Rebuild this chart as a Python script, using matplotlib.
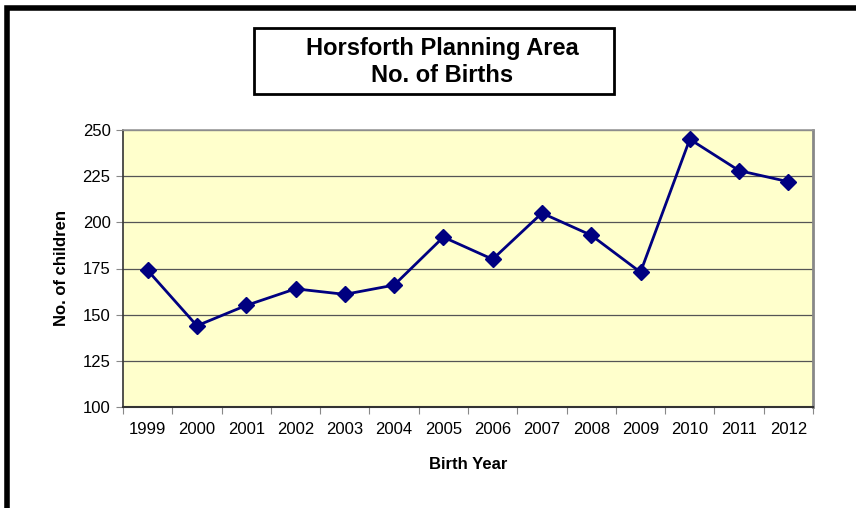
import matplotlib
matplotlib.use("Agg")
from matplotlib import pyplot as plt
from matplotlib.patches import Rectangle

plt.rcParams['font.family'] = ['Liberation Sans', 'DejaVu Sans']

years = ["1999", "2000", "2001", "2002", "2003", "2004", "2005",
         "2006", "2007", "2008", "2009", "2010", "2011", "2012"]
births = [174, 144, 155, 164, 161, 166, 192, 180, 205, 193, 173, 245, 228, 222]
y_ticks = [100, 125, 150, 175, 200, 225, 250]

W, H = 856, 508
fig = plt.figure(figsize=(W / 100, H / 100), dpi=100)

# outer chart border (only left and top are in view)
fig.patches.append(Rectangle((7 / W, -0.1), 1.2, 1 - 8 / H + 0.1,
                             transform=fig.transFigure, fill=False,
                             edgecolor="black", linewidth=4))

# title box
fig.patches.append(Rectangle((254 / W, 1 - 94 / H), 360 / W, 66 / H,
                             transform=fig.transFigure, fill=True,
                             facecolor="white", edgecolor="black", linewidth=2))
fig.text(442 / W, 1 - 62 / H, "Horsforth Planning Area\nNo. of Births",
         ha="center", va="center", fontsize=17, fontweight="bold",
         linespacing=1.25)

ax = fig.add_axes([123 / W, 1 - 407 / H, 690 / W, 277 / H])
ax.set_facecolor("#ffffcc")
x = list(range(len(years)))
ax.plot(x, births, color="#000080", linewidth=2, marker="D", markersize=8.5,
        zorder=3)

ax.set_xlim(-0.5, len(years) - 0.5)
ax.set_ylim(100, 250)
ax.set_yticks(y_ticks)
ax.yaxis.grid(True, color="#555555", linewidth=0.9)
ax.set_axisbelow(True)

ax.set_xticks([i - 0.5 for i in range(len(years) + 1)])
ax.set_xticklabels([])
ax.set_xticks(x, minor=True)
ax.set_xticklabels(years, minor=True)
ax.tick_params(axis="x", which="minor", length=0, pad=11, labelsize=12)
ax.tick_params(axis="x", which="major", length=5, color="#888888")
ax.tick_params(axis="y", length=5, color="#888888", labelsize=12, pad=4)

for side in ["top", "left"]:
    ax.spines[side].set_color("#999999")
    ax.spines[side].set_linewidth(1.2)
ax.spines["right"].set_color("#888888")
ax.spines["right"].set_linewidth(2)
ax.spines["bottom"].set_color("#333333")
ax.spines["bottom"].set_linewidth(1.5)
ax.spines["left"].set_color("#333333")

ax.set_xlabel("Birth Year", fontsize=12, fontweight="bold", labelpad=14)
ax.set_ylabel("No. of children", fontsize=12, fontweight="bold", labelpad=10)

fig.savefig("out.png", dpi=100)
